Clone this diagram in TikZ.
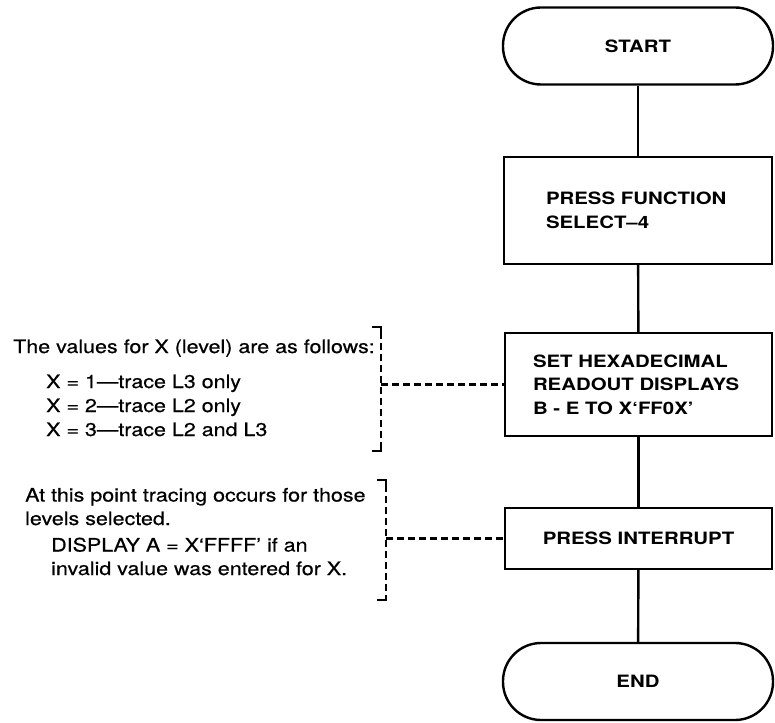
\documentclass[tikz,border=0pt]{standalone}
\usepackage{fontspec}
\usetikzlibrary{calc}
\setmainfont{TeX Gyre Heros}[FakeStretch=1.16,FakeBold=0.5]
\newfontfamily\boxfont{TeX Gyre Heros}[FakeStretch=1.2]
\begin{document}
\begin{tikzpicture}[x=1pt,y=-1pt,line width=2.4pt,
  boxtext/.style={font=\boxfont\bfseries\fontsize{17}{23.5}\selectfont},
  term/.style={draw,boxtext,rounded corners=38pt,minimum width=270pt,minimum height=77pt,inner sep=0pt},
  procbox/.style={draw,boxtext,align=left},
  notetext/.style={anchor=base west,inner sep=0pt,font=\fontsize{18.5}{24}\selectfont},
  dashline/.style={line width=2.1pt,dash pattern=on 6.5pt off 4.5pt},
  brk/.style={line width=2.1pt}]
\useasboundingbox (0,0) rectangle (775,722);

% flow nodes
\node[term] (start) at (638,46) {START};
\node[procbox,text width=184pt,inner xsep=42pt,minimum height=107pt] (b1) at (638,210.5)
  {\mbox{PRESS FUNCTION}\\\mbox{SELECT–4}};
\node[procbox,text width=211pt,inner xsep=28pt,minimum height=103pt] (b2) at (638.5,384.5)
  {\mbox{SET HEXADECIMAL}\\\mbox{READOUT DISPLAYS}\\\mbox{B - E TO X‘FF0X’}};
\node[draw,boxtext,minimum width=267pt,minimum height=61pt,inner sep=0pt] (b3) at (638.5,538.5) {PRESS INTERRUPT};
\node[term] (end) at (638,681.5) {END};

\draw (start) -- (b1);
\draw (b1) -- (b2);
\draw (b2) -- (b3);
\draw (b3) -- (end);

% note 1
\node[notetext] (n1a) at (12,353) {The values for X (level) are as follows:};
\node[notetext] (n1b) at (45,388) {X = 1—trace L3 only};
\node[notetext] (n1c) at (45,412) {X = 2—trace L2 only};
\node[notetext] (n1d) at (45,436) {X = 3—trace L2 and L3};

% note 2
\node[notetext] (n2a) at (24,501.5) {At this point tracing occurs for those};
\node[notetext] (n2b) at (24,525) {levels selected.};
\node[notetext] (n2c) at (50,551.5) {DISPLAY A = X‘FFFF’ if an};
\node[notetext] (n2d) at (50,575) {invalid value was entered for X.};

% bracket 1
\coordinate (k1a) at (372,327);
\coordinate (k1b) at (381,327);
\coordinate (k1c) at (381,451);
\coordinate (k1d) at (372,451);
\draw[brk] (k1a) -- (k1b) -- ++(0,5);
\draw[brk,dashline] ($(k1b)+(0,5)$) -- ($(k1c)+(0,-5)$);
\draw[brk] ($(k1c)+(0,-5)$) -- (k1c) -- (k1d);
\coordinate (j1) at (k1b |- b2.west);
\draw[dashline] (j1) -- (b2.west);

% bracket 2
\coordinate (k2a) at (377,480);
\coordinate (k2b) at (386,480);
\coordinate (k2c) at (386,600);
\coordinate (k2d) at (377,600);
\draw[brk] (k2a) -- (k2b) -- ++(0,5);
\draw[brk,dashline] ($(k2b)+(0,5)$) -- ($(k2c)+(0,-5)$);
\draw[brk] ($(k2c)+(0,-5)$) -- (k2c) -- (k2d);
\coordinate (j2) at (k2b |- b3.west);
\draw[dashline] (j2) -- (b3.west);
\end{tikzpicture}
\end{document}
